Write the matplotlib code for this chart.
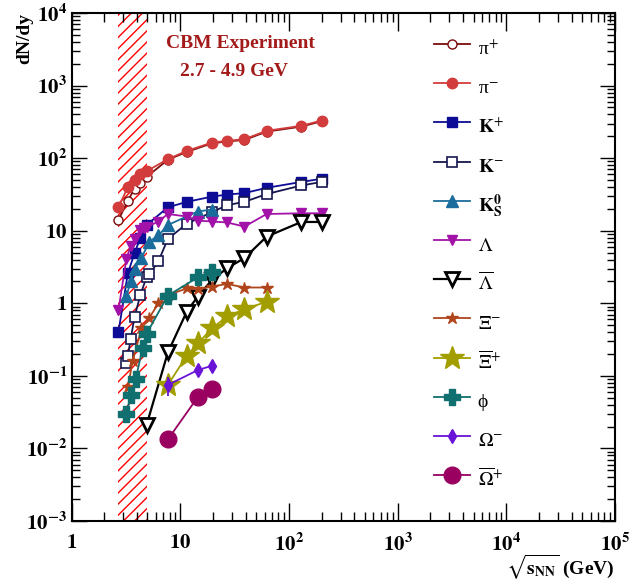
import numpy as np
import matplotlib
matplotlib.use("Agg")
import matplotlib.pyplot as plt
from matplotlib.ticker import FuncFormatter, LogLocator

plt.rcParams['font.family'] = ['Liberation Serif', 'DejaVu Serif']
plt.rcParams['mathtext.fontset'] = 'stix'
plt.rcParams['hatch.linewidth'] = 1.0

# energies (GeV) and yields
pip_x = [2.7, 3.3, 3.8, 4.3, 4.9, 7.7, 11.5, 19.6, 27, 39, 62.4, 130, 200]
pip_y = [14, 26, 38, 46, 55, 95, 122, 160, 170, 178, 232, 272, 322]
pim_x = [2.7, 3.3, 3.8, 4.3, 4.9, 7.7, 11.5, 19.6, 27, 39, 62.4, 130, 200]
pim_y = [21, 40, 50, 61, 66, 97, 126, 164, 173, 183, 238, 279, 330]
kp_x = [2.7, 3.3, 3.8, 4.3, 4.9, 7.7, 11.5, 19.6, 27, 39, 62.4, 130, 200]
kp_y = [0.40, 2.6, 4.9, 8.0, 12, 21, 25, 29.5, 31.5, 33, 39, 47, 52]
km_x = [3.2, 3.3, 3.5, 3.8, 4.3, 4.9, 5.2, 6.3, 7.7, 11.5, 19.6, 27, 39, 62.4, 130, 200]
km_y = [0.15, 0.19, 0.32, 0.65, 1.3, 2.3, 2.5, 3.8, 7.7, 12.5, 18, 22.5, 25, 32, 42, 47]
k0_x = [3.2, 3.5, 3.8, 4.4, 5.2, 6.3, 7.7, 14.5, 19.6]
k0_y = [1.25, 2.0, 3.0, 4.2, 7.1, 8.6, 12, 18.4, 19.6]
lam_x = [2.7, 3.2, 3.5, 3.8, 4.3, 4.6, 4.9, 6.3, 7.7, 11.5, 14.5, 19.6, 27, 39, 62.4, 130, 200]
lam_y = [0.8, 4.1, 6.2, 7.6, 10.3, 10.8, 11.2, 13.4, 17, 15.7, 13.8, 13.4, 13, 11.4, 17, 17.4, 17.4]
alam_x = [4.9, 7.7, 11.5, 14.5, 19.6, 27, 39, 62.4, 130, 200]
alam_y = [0.021, 0.21, 0.77, 1.24, 2.1, 3.05, 4.2, 8.3, 13.2, 13.2]
xim_x = [3.3, 3.65, 4.4, 5.2, 6.3, 7.7, 11.5, 14.5, 19.6, 27, 39, 62.4]
xim_y = [0.07, 0.16, 0.45, 0.63, 1.0, 1.3, 1.6, 1.55, 1.7, 1.85, 1.65, 1.65]
axi_x = [7.7, 11.5, 14.5, 19.6, 27, 39, 62.4]
axi_y = [0.075, 0.19, 0.28, 0.45, 0.66, 0.83, 1.05]
phi_x = [3.2, 3.5, 3.9, 4.5, 4.9, 7.7, 14.5, 19.6]
phi_y = [0.030, 0.054, 0.091, 0.24, 0.38, 1.28, 2.27, 2.66]
om_x = [7.7, 14.5, 19.6]
om_y = [0.075, 0.12, 0.138]
om_err = [0.022, 0.0, 0.0]
aom_x = [7.7, 14.5, 19.6]
aom_y = [0.0133, 0.051, 0.066]

fig = plt.figure(figsize=(6.29, 5.83), dpi=100)
ax = fig.add_axes([0.1137, 0.1063, 0.8640, 0.8714])

# hatched CBM energy range
ax.axvspan(2.7, 4.9, facecolor='none', edgecolor='red', hatch='///', linewidth=0, zorder=0)

lw = 1.3
h = []
h += ax.plot(pip_x, pip_y, '-o', color='#7a0c0c', mfc='white', mec='#7a0c0c', ms=6.5, mew=1, lw=lw, label='π$^{+}$')
h += ax.plot(pim_x, pim_y, '-o', color='#d23c3c', ms=7.5, lw=lw, label='π$^{-}$')
h += ax.plot(kp_x, kp_y, '-s', color='#0c0c96', ms=6.5, lw=lw, label=r'$\mathbf{K}^{+}$')
h += ax.plot(km_x, km_y, '-s', color='#16164e', mfc='white', ms=7, mew=1.2, lw=lw, label=r'$\mathbf{K}^{-}$')
h += ax.plot(k0_x, k0_y, '-^', color='#1a6c9c', ms=8, lw=lw, label=r'$\mathbf{K^{0}_{S}}$')
h += ax.plot(lam_x, lam_y, '-v', color='#a312a8', ms=6.5, lw=lw, label=r'$\Lambda$')
h += ax.plot(alam_x, alam_y, '-v', color='black', mfc='white', ms=10, mew=2, lw=1.6, label=r'$\overline{\Lambda}$')
h += ax.plot(xim_x, xim_y, '-*', color='#b0451c', ms=9, lw=lw, label=r'$\Xi^{-}$')
h += ax.plot(axi_x, axi_y, '-*', color='#a39e00', ms=18, lw=lw, label=r'$\overline{\Xi}^{+}$')
h += ax.plot(phi_x, phi_y, '-P', color='#107070', ms=11, lw=lw, label='ϕ')
ax.errorbar(om_x, om_y, yerr=om_err, fmt='none', ecolor='#6a14d8', lw=lw)
h += ax.plot(om_x, om_y, '-d', color='#6a14d8', ms=7, lw=lw, label=r'$\Omega^{-}$')
h += ax.plot(aom_x, aom_y, '-o', color='#990060', ms=12, lw=lw, label=r'$\overline{\Omega}^{+}$')

ax.set_xscale('log')
ax.set_yscale('log')
ax.set_xlim(1, 1e5)
ax.set_ylim(1e-3, 1e4)


def fmt(v, pos):
    e = int(round(np.log10(v)))
    if e == 0:
        return r'$\mathbf{1}$'
    if e == 1:
        return r'$\mathbf{10}$'
    return r'$\mathbf{10^{%d}}$' % e


ax.xaxis.set_major_formatter(FuncFormatter(fmt))
ax.yaxis.set_major_formatter(FuncFormatter(fmt))
ax.xaxis.set_major_locator(LogLocator(base=10, numticks=10))
ax.yaxis.set_major_locator(LogLocator(base=10, numticks=12))
ax.xaxis.set_minor_locator(LogLocator(base=10, subs=np.arange(2, 10), numticks=20))
ax.yaxis.set_minor_locator(LogLocator(base=10, subs=np.arange(2, 10), numticks=20))

ax.tick_params(which='both', direction='in', top=True, right=True, labelsize=15, width=1)
ax.tick_params(axis='x', which='major', length=13, pad=9)
ax.tick_params(axis='x', which='minor', length=6.5)
ax.tick_params(axis='y', which='major', length=11, pad=3)
ax.tick_params(axis='y', which='minor', length=5.5)
for sp in ax.spines.values():
    sp.set_linewidth(1.5)

ax.set_ylabel('dN/dy', fontsize=14, fontweight='bold', loc='top')
ax.yaxis.set_label_coords(-0.071, 1.0)
ax.set_xlabel(r'$\mathbf{\sqrt{s_{NN}}}$ (GeV)', fontsize=14, fontweight='bold', loc='right')
ax.xaxis.set_label_coords(1.0, -0.063)

fig.text(240.5 / 629, 1 - 44 / 583, 'CBM Experiment', fontsize=14, fontweight='bold',
         color='#a31a1a', ha='center', va='center')
fig.text(233.5 / 629, 1 - 72 / 583, '2.7 - 4.9 GeV', fontsize=14, fontweight='bold',
         color='#a31a1a', ha='center', va='center')

ax.legend(handles=h, loc='upper left', bbox_to_anchor=(434 / 629, 1 - 33.5 / 583), bbox_transform=fig.transFigure,
          frameon=False, fontsize=14, handlelength=1.85, handleheight=2.0, labelspacing=0.47,
          handletextpad=0.4, borderpad=0, borderaxespad=0, numpoints=1)

fig.savefig('out.png', dpi=100)
